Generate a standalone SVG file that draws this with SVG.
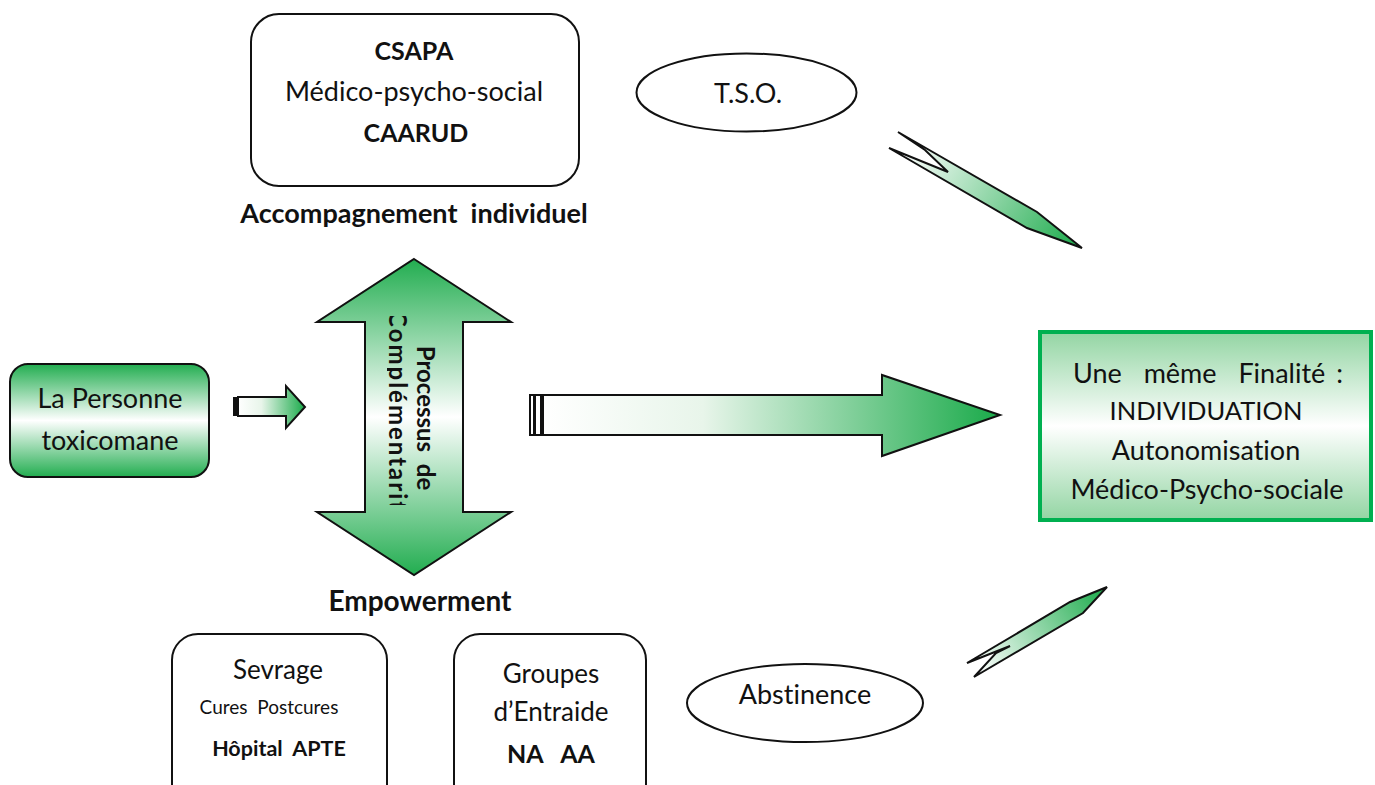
<svg xmlns="http://www.w3.org/2000/svg" width="1375" height="785" viewBox="0 0 1375 785">
<defs>
<style>
text{font-family:Lato,"Open Sans","Liberation Sans",sans-serif;fill:#111;text-anchor:middle;white-space:pre;font-variant-ligatures:none}
.b{font-weight:bold}
.box{fill:#fff;stroke:#111;stroke-width:2}
.sh{stroke:#111;stroke-width:2;stroke-linejoin:miter}
</style>
<linearGradient id="gv" x1="0" y1="0" x2="0" y2="1">
<stop offset="0" stop-color="#22ad50"/><stop offset="0.5" stop-color="#ffffff"/><stop offset="1" stop-color="#22ad50"/>
</linearGradient>
<linearGradient id="gvl" x1="0" y1="0" x2="0" y2="1">
<stop offset="0" stop-color="#93d5a3"/><stop offset="0.5" stop-color="#ffffff"/><stop offset="1" stop-color="#93d5a3"/>
</linearGradient>
<linearGradient id="gh" x1="0" y1="0" x2="1" y2="0">
<stop offset="0" stop-color="#ffffff"/><stop offset="0.35" stop-color="#e8f5ea"/><stop offset="1" stop-color="#1aaa4a"/>
</linearGradient>
<linearGradient id="gl1" gradientUnits="userSpaceOnUse" x1="910" y1="140" x2="1082" y2="248">
<stop offset="0" stop-color="#ffffff"/><stop offset="1" stop-color="#1aaa4a"/>
</linearGradient>
<linearGradient id="gl2" gradientUnits="userSpaceOnUse" x1="975" y1="668" x2="1107" y2="587">
<stop offset="0" stop-color="#ffffff"/><stop offset="1" stop-color="#1aaa4a"/>
</linearGradient>
<clipPath id="vclip"><rect x="387" y="316" width="60" height="189"/></clipPath>
</defs>

<g id="csapa">
<rect class="box" x="251" y="14" width="328" height="172" rx="28"/>
<text class="b" x="414" y="60" font-size="25">CSAPA</text>
<text x="414" y="101" font-size="27">Médico-psycho-social</text>
<text class="b" x="416" y="142" font-size="25">CAARUD</text>
</g>
<g id="accompagnement"><text class="b" x="414" y="223" font-size="27">Accompagnement  individuel</text></g>

<g id="tso">
<ellipse class="box" cx="746.5" cy="92.5" rx="110" ry="39"/>
<text x="748" y="103" font-size="27">T.S.O.</text>
</g>

<g id="personne">
<rect x="10" y="364" width="199" height="113" rx="18" fill="url(#gv)" stroke="#111" stroke-width="2"/>
<text x="110" y="408" font-size="27">La Personne</text>
<text x="110" y="450" font-size="27">toxicomane</text>
</g>

<g id="processus">
<polygon class="sh" fill="url(#gv)" points="414,259 511,322 463,322 463,512 511,512 414,575 317,512 365,512 365,322 317,322"/>
<g clip-path="url(#vclip)">
<g transform="translate(417,418) rotate(90)">
<text class="b" x="0" y="0" font-size="24">Processus  de</text>
<text class="b" x="0" y="28" font-size="24" textLength="214" lengthAdjust="spacing">Complémentarité</text>
</g>
</g>
</g>

<g id="empowerment"><text class="b" x="420" y="611" font-size="28">Empowerment</text></g>

<g id="finalite">
<rect x="1040" y="332" width="331" height="188" fill="url(#gvl)" stroke="#00b050" stroke-width="4"/>
<text x="1208" y="383" font-size="27" word-spacing="4">Une  même  Finalité :</text>
<text x="1206" y="420" font-size="25.5">INDIVIDUATION</text>
<text x="1206" y="460" font-size="27">Autonomisation</text>
<text x="1207" y="499" font-size="27">Médico-Psycho-sociale</text>
</g>

<g id="sevrage">
<rect class="box" x="172" y="634" width="215" height="180" rx="26"/>
<text x="278" y="679" font-size="26">Sevrage</text>
<text x="269" y="714" font-size="19">Cures  Postcures</text>
<text class="b" x="279" y="756" font-size="21.5">Hôpital  APTE</text>
</g>

<g id="groupes">
<rect class="box" x="454" y="634" width="192" height="180" rx="26"/>
<text x="551" y="683" font-size="26">Groupes</text>
<text x="551" y="721" font-size="26">d’Entraide</text>
<text class="b" x="551" y="763" font-size="25">NA   AA</text>
</g>

<g id="abstinence">
<ellipse class="box" cx="805" cy="703" rx="118" ry="39"/>
<text x="805" y="704" font-size="27">Abstinence</text>
</g>

<g id="connectors">
<rect x="233" y="397" width="5" height="19" fill="#111"/>
<polygon class="sh" fill="url(#gh)" points="238,397 286,397 286,386 305,407 286,428 286,416 238,416"/>
<rect class="sh" x="530" y="395" width="4" height="40" fill="#fff" stroke-width="1.5"/>
<rect class="sh" x="535" y="395" width="6" height="40" fill="#fff" stroke-width="1.5"/>
<polygon class="sh" fill="url(#gh)" points="543,395 882,395 882,375 1000,415 882,456 882,435 543,435"/>
<polygon class="sh" fill="url(#gl1)" points="898,132 1037,212 1082,248 1027,228 889,148 948,172 925,150"/>
<polygon class="sh" fill="url(#gl2)" points="1107,587 1070,602 967,663 1010,646 996,653 974,677 1083,613"/>
</g>
</svg>
